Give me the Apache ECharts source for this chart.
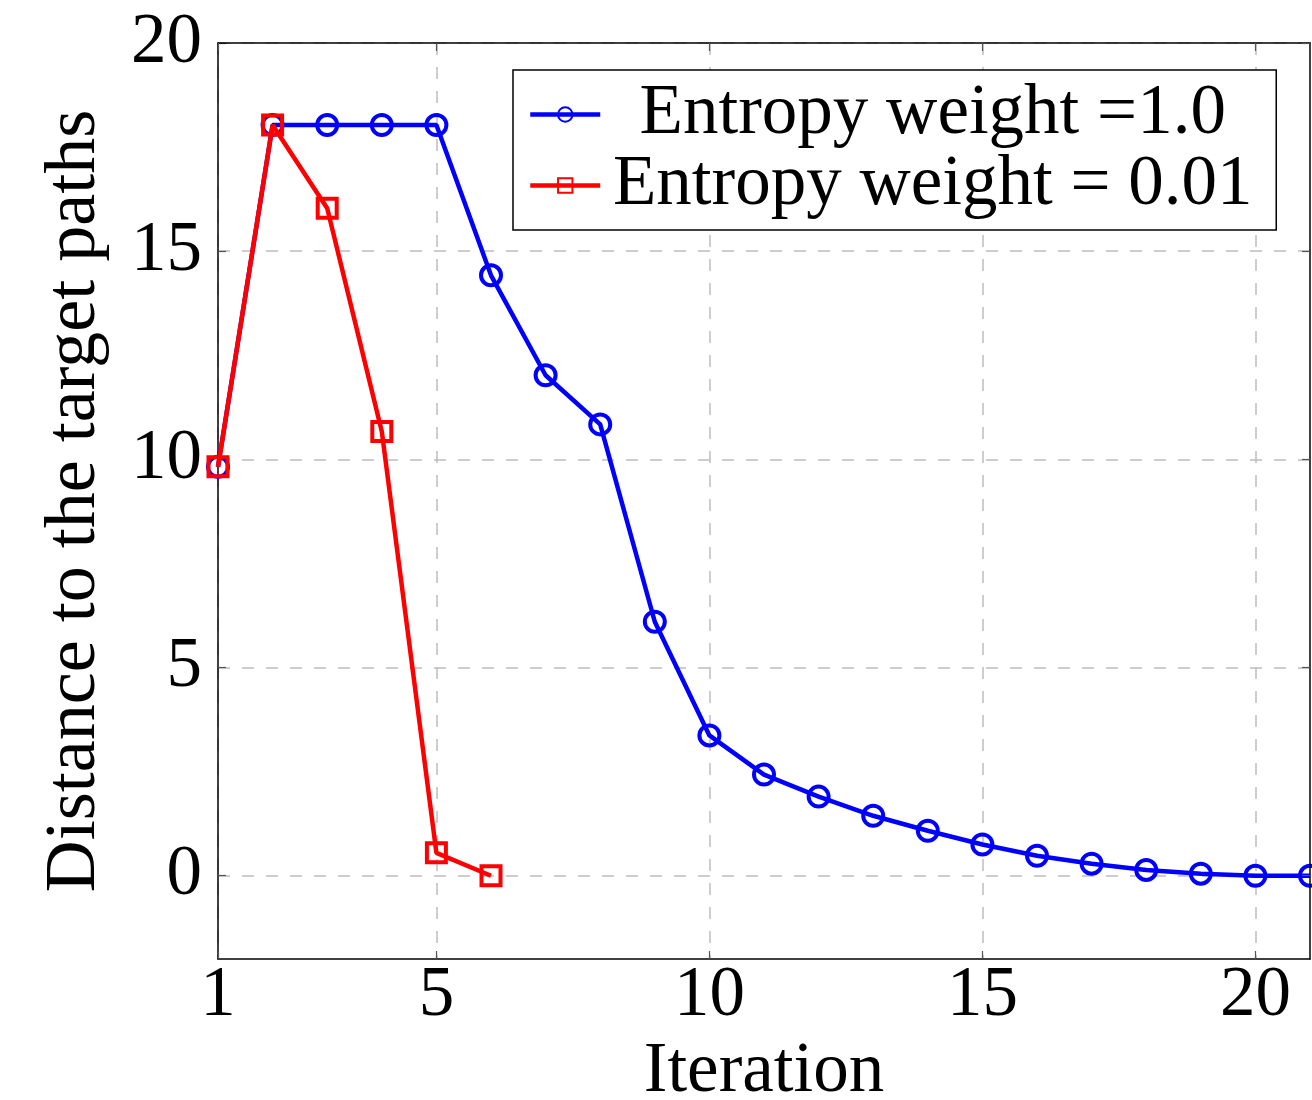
<!DOCTYPE html>
<html>
<head>
<meta charset="utf-8">
<script src="https://cdn.jsdelivr.net/npm/echarts@6/dist/echarts.min.js"></script>
<style>
html,body{margin:0;padding:0;background:#fff;}
#chart{width:1312px;height:1100px;}
</style>
</head>
<body>
<div id="chart"></div>
<script>
const iterationsBlue = [1,2,3,4,5,6,7,8,9,10,11,12,13,14,15,16,17,18,19,20,21];
const distanceBlue = [9.82,18.03,18.03,18.03,18.03,14.42,12.02,10.84,6.1,3.37,2.43,1.9,1.44,1.08,0.75,0.48,0.29,0.14,0.05,0.0,0.0];
const iterationsRed = [1,2,3,4,5,6];
const distanceRed = [9.82,18.03,16.03,10.67,0.55,0.0];
const xTicks = [1,5,10,15,20];
const yTicks = [0,5,10,15,20];
const seriesNames = ['Entropy weight =1.0','Entropy weight = 0.01'];

const FONT = 'Liberation Serif';
const chart = echarts.init(document.getElementById('chart'), null, {renderer:'canvas'});

function pairs(xs, ys){ return xs.map((x,i)=>[x, ys[i]]); }

const gridDash = {color:'#bdbdbd', width:1.5, type:[12,12]};
const tickStyle = {color:'#555', width:1.2};

chart.setOption({
  animation:false,
  backgroundColor:'#ffffff',
  grid:{left:218, right:2, top:43, bottom:141, outerBoundsMode:'none', containLabel:false},
  xAxis:[{
    type:'value', min:1, max:21,
    name:'Iteration', nameLocation:'middle', nameGap:72,
    nameTextStyle:{fontFamily:FONT, fontSize:71, color:'#000'},
    axisLine:{show:true, onZero:false, lineStyle:{color:'#000', width:1.5}},
    axisTick:{show:true, inside:true, length:8, customValues:xTicks, lineStyle:tickStyle},
    axisLabel:{customValues:xTicks, fontFamily:FONT, fontSize:71, color:'#000', margin:2},
    splitLine:{show:true, lineStyle:gridDash}
  },{
    type:'value', min:1, max:21, position:'top', z:5,
    axisLine:{show:true, onZero:false, lineStyle:{color:'#000', width:1.5}},
    axisTick:{show:true, inside:true, length:8, customValues:xTicks, lineStyle:tickStyle},
    axisLabel:{show:false}, splitLine:{show:false}
  }],
  yAxis:[{
    type:'value', min:-2, max:20,
    name:'Distance to the target paths', nameLocation:'middle', nameGap:107, nameRotate:90,
    nameTextStyle:{fontFamily:FONT, fontSize:72, color:'#000'},
    axisLine:{show:true, onZero:false, lineStyle:{color:'#000', width:1.5}},
    axisTick:{show:true, inside:true, length:8, customValues:yTicks, lineStyle:tickStyle},
    axisLabel:{customValues:yTicks, fontFamily:FONT, fontSize:71, color:'#000', margin:16},
    splitLine:{show:true, lineStyle:gridDash}
  },{
    type:'value', min:-2, max:20, position:'right', z:5,
    axisLine:{show:true, onZero:false, lineStyle:{color:'#000', width:1.5}},
    axisTick:{show:true, inside:true, length:8, customValues:yTicks, lineStyle:tickStyle},
    axisLabel:{show:false}, splitLine:{show:false}
  }],
  legend:{
    left:513, top:70, orient:'vertical',
    data:seriesNames,
    backgroundColor:'#fff', borderColor:'#000', borderWidth:1.5,
    padding:[9,16,9,15], itemGap:0, itemWidth:70, itemHeight:18,
    lineStyle:{width:4.5},
    formatter: function(n){ return '{a|' + n + '}'; },
    textStyle:{fontFamily:FONT, fontSize:71, color:'#000',
      rich:{a:{fontFamily:FONT, fontSize:71, color:'#000', width:655, align:'center', lineHeight:72}}}
  },
  series:[
    {
      name:seriesNames[0], type:'line', data:pairs(iterationsBlue, distanceBlue),
      xAxisIndex:0, yAxisIndex:0,
      symbol:'circle', symbolSize:20, clip:false,
      lineStyle:{color:'#0000ff', width:4.5},
      itemStyle:{color:'rgba(255,255,255,0)', borderColor:'#0000ff', borderWidth:4},
      z:3
    },
    {
      name:seriesNames[1], type:'line', data:pairs(iterationsRed, distanceRed),
      xAxisIndex:0, yAxisIndex:0,
      symbol:'rect', symbolSize:19, clip:false,
      lineStyle:{color:'#ff0000', width:4.5},
      itemStyle:{color:'rgba(255,255,255,0)', borderColor:'#ff0000', borderWidth:4},
      z:4
    }
  ]
});
</script>
</body>
</html>
